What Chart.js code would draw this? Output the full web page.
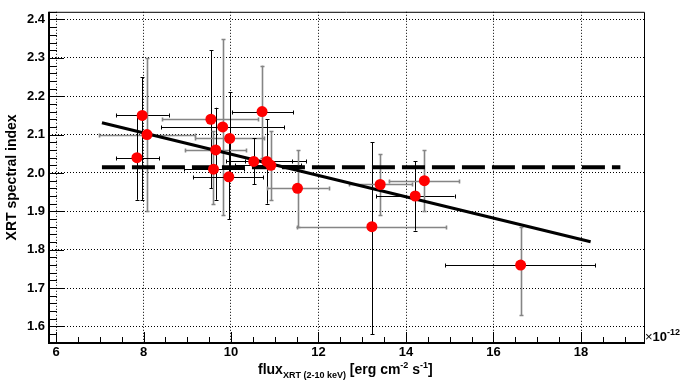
<!DOCTYPE html>
<html>
<head>
<meta charset="utf-8">
<script src="https://cdn.jsdelivr.net/npm/chart.js@4.4.1/dist/chart.umd.min.js"></script>
<style>
  html, body { margin: 0; padding: 0; background: #fff; }
  canvas { display: block; }
</style>
</head>
<body>
<canvas id="xrtChart" width="682" height="389"></canvas>
<script>
// flux in units of 1e-12 erg/cm2/s, with asymmetric ranges
const fluxX    = [7.97, 8.08, 7.85, 9.54, 9.81, 9.97, 9.65, 9.60, 9.95, 10.52, 10.82, 10.91, 10.71, 11.52, 13.22, 13.41, 14.21, 14.42, 16.62];
const fluxLow  = [7.37, 6.99, 7.37, 8.43, 8.40, 9.17, 8.94, 8.93, 9.13, 9.89, 10.33, 10.10, 10.02, 10.82, 11.51, 12.70, 13.32, 13.60, 14.90];
const fluxHigh = [8.58, 9.18, 8.36, 10.62, 11.22, 10.76, 10.34, 10.30, 10.74, 11.72, 11.39, 11.60, 11.42, 12.23, 14.92, 14.14, 15.11, 15.22, 18.32];

const indexY    = [2.15, 2.10, 2.04, 2.14, 2.12, 2.09, 2.06, 2.01, 1.99, 2.03, 2.03, 2.02, 2.16, 1.96, 1.86, 1.97, 1.94, 1.98, 1.76];
const indexLow  = [1.93, 1.90, 1.93, 1.96, 1.89, 2.00, 1.93, 1.92, 1.88, 1.97, 1.92, 1.93, 2.04, 1.86, 1.58, 1.89, 1.85, 1.90, 1.63];
const indexHigh = [2.25, 2.30, 2.15, 2.32, 2.35, 2.21, 2.17, 2.11, 2.10, 2.09, 2.14, 2.11, 2.28, 2.06, 2.08, 2.05, 2.03, 2.06, 1.86];

// linear fit and constant (mean) fit
const fitX  = [7.05, 18.22];
const fitY  = [2.131, 1.821];
const meanX = [7.05, 18.9];
const meanY = [2.015, 2.015];

const xTicks = [6, 8, 10, 12, 14, 16, 18];
const yTicks = [1.6, 1.7, 1.8, 1.9, 2.0, 2.1, 2.2, 2.3, 2.4];

const X_MIN = 5.84, X_MAX = 19.44;
const Y_MIN = 1.557, Y_MAX = 2.42;

const K = '#000', G = '#858585';
const xBarColor = [K, G, K, G, K, G, G, K, K, K, K, K, K, G, G, G, K, G, K];
const yBarColor = [K, G, K, K, G, K, K, G, K, K, K, G, G, G, K, G, K, G, G];

const FONT = "'Liberation Sans', Arial, Helvetica, sans-serif";
Chart.defaults.font.family = FONT;
Chart.defaults.color = '#000';

const crisp = v => Math.round(v) + 0.5;

const errorBars = {
  id: 'errorBars',
  beforeDatasetsDraw(chart) {
    const { ctx, scales: { x, y } } = chart;
    ctx.save();
    fluxX.forEach((fx, i) => {
      const px = crisp(x.getPixelForValue(fx));
      const py = crisp(y.getPixelForValue(indexY[i]));
      const x0 = x.getPixelForValue(fluxLow[i]), x1 = x.getPixelForValue(fluxHigh[i]);
      const y0 = y.getPixelForValue(indexLow[i]), y1 = y.getPixelForValue(indexHigh[i]);
      ctx.strokeStyle = xBarColor[i];
      ctx.lineWidth = xBarColor[i] === G ? 1.6 : 1;
      ctx.beginPath();
      ctx.moveTo(x0, py); ctx.lineTo(x1, py);
      ctx.moveTo(crisp(x0), py - 2); ctx.lineTo(crisp(x0), py + 2);
      ctx.moveTo(crisp(x1), py - 2); ctx.lineTo(crisp(x1), py + 2);
      ctx.stroke();
      ctx.strokeStyle = yBarColor[i];
      ctx.lineWidth = yBarColor[i] === G ? 1.6 : 1;
      ctx.beginPath();
      ctx.moveTo(px, y0); ctx.lineTo(px, y1);
      ctx.moveTo(px - 2, crisp(y0)); ctx.lineTo(px + 2, crisp(y0));
      ctx.moveTo(px - 2, crisp(y1)); ctx.lineTo(px + 2, crisp(y1));
      ctx.stroke();
    });
    ctx.restore();
  },
};

const rootFrame = {
  id: 'rootFrame',
  afterDraw(chart) {
    const { ctx, chartArea: a, scales: { x, y } } = chart;
    ctx.save();
    ctx.strokeStyle = '#000';
    ctx.lineWidth = 1;
    ctx.beginPath();
    // y ticks, inside the frame
    for (let v = 1.56; v <= Y_MAX + 1e-9; v += 0.02) {
      const major = Math.abs(v * 10 - Math.round(v * 10)) < 1e-6;
      const py = crisp(y.getPixelForValue(v));
      ctx.moveTo(a.left, py); ctx.lineTo(a.left + (major ? 15 : 8), py);
    }
    // x ticks
    for (let v = 6; v <= X_MAX + 1e-9; v += 0.5) {
      const major = Math.abs(v / 2 - Math.round(v / 2)) < 1e-6;
      const px = crisp(x.getPixelForValue(v));
      ctx.moveTo(px, a.bottom); ctx.lineTo(px, a.bottom - (major ? 11 : 6));
    }
    ctx.stroke();

    // frame: thin top/right, thick left/bottom
    ctx.beginPath();
    ctx.moveTo(a.left, a.top + 0.5); ctx.lineTo(a.right + 0.5, a.top + 0.5); ctx.lineTo(a.right + 0.5, a.bottom);
    ctx.stroke();
    ctx.lineWidth = 2;
    ctx.beginPath();
    ctx.moveTo(a.left, a.top); ctx.lineTo(a.left, a.bottom); ctx.lineTo(a.right + 1, a.bottom);
    ctx.stroke();

    // x axis title with sub/superscripts
    ctx.fillStyle = '#000';
    ctx.textBaseline = 'alphabetic';
    ctx.textAlign = 'left';
    const parts = [
      ['flux', 14, 0],
      ['XRT (2-10 keV)', 9, 4],
      [' [erg cm', 14, 0],
      ['-2', 9, -6],
      [' s', 14, 0],
      ['-1', 9, -6],
      [']', 14, 0],
    ];
    let tx = 258;
    const base = 374;
    parts.forEach(([t, size, dy]) => {
      ctx.font = `bold ${size}px ${FONT}`;
      ctx.fillText(t, tx, base + dy);
      tx += ctx.measureText(t).width;
    });

    // exponent marker
    ctx.font = `13px ${FONT}`;
    ctx.fillText('\u00d7', a.right + 1, 341);
    let ex = a.right + 1 + ctx.measureText('\u00d7').width;
    ctx.font = `bold 13px ${FONT}`;
    ctx.fillText('10', ex, 341);
    ex += ctx.measureText('10').width;
    ctx.font = `bold 9px ${FONT}`;
    ctx.fillText('-12', ex, 335);
    ctx.restore();
  },
};

const gridDots = { color: '#000', lineWidth: 1, drawTicks: false };

new Chart(document.getElementById('xrtChart'), {
  type: 'scatter',
  data: {
    datasets: [
      {
        label: 'data',
        data: fluxX.map((v, i) => ({ x: v, y: indexY[i] })),
        backgroundColor: '#ff0000',
        borderWidth: 0,
        pointRadius: 5.5,
        order: 0,
      },
      {
        type: 'line',
        label: 'linear fit',
        data: fitX.map((v, i) => ({ x: v, y: fitY[i] })),
        borderColor: '#000',
        borderWidth: 3,
        pointRadius: 0,
        fill: false,
        order: 1,
      },
      {
        type: 'line',
        label: 'constant fit',
        data: meanX.map((v, i) => ({ x: v, y: meanY[i] })),
        borderColor: '#000',
        borderWidth: 4,
        borderDash: [23, 7],
        pointRadius: 0,
        fill: false,
        order: 2,
      },
    ],
  },
  options: {
    responsive: false,
    animation: false,
    layout: { padding: { top: 4, right: 38, left: 0, bottom: 0 } },
    plugins: { legend: { display: false }, tooltip: { enabled: false } },
    scales: {
      x: {
        type: 'linear', min: X_MIN, max: X_MAX,
        grid: gridDots,
        border: { display: false, dash: [1, 2] },
        afterBuildTicks: s => { s.ticks = xTicks.map(v => ({ value: v })); },
        afterFit: s => { s.height = 46; },
        ticks: { padding: 2, maxRotation: 0, font: { size: 13, weight: 'bold' }, callback: v => String(v) },
      },
      y: {
        type: 'linear', min: Y_MIN, max: Y_MAX,
        grid: gridDots,
        border: { display: false, dash: [1, 2] },
        afterBuildTicks: s => { s.ticks = yTicks.map(v => ({ value: v })); },
        afterFit: s => { s.width = 49; },
        ticks: { padding: 4, font: { size: 13, weight: 'bold' }, callback: v => v.toFixed(1) },
        title: { display: true, text: 'XRT spectral index', font: { size: 14, weight: 'bold' }, padding: { top: 4, bottom: 0 } },
      },
    },
  },
  plugins: [errorBars, rootFrame],
});
</script>
</body>
</html>
